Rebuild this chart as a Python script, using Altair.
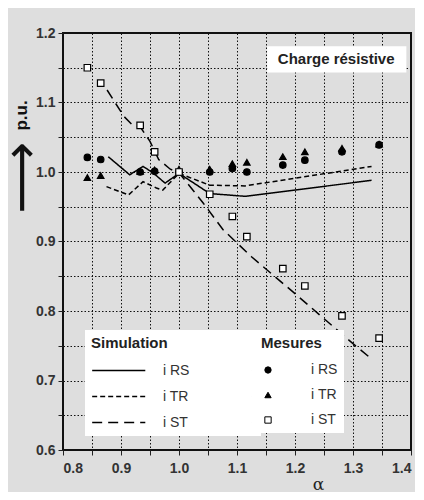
import altair as alt
import pandas as pd

# ---- data ----
sim_names = ["i RS", "i TR", "i ST"]
meas_names = ["i\u00a0RS", "i\u00a0TR", "i\u00a0ST"]

alpha_meas = [0.842, 0.865, 0.933, 0.958, 1.0, 1.053, 1.092, 1.117, 1.179, 1.217, 1.281, 1.345]
irs_meas = [1.021, 1.018, 1.000, 1.001, 1.000, 1.000, 1.005, 1.000, 1.010, 1.017, 1.029, 1.039]
itr_meas = [0.992, 0.995, 1.001, 1.003, 1.004, 1.004, 1.012, 1.014, 1.022, 1.029, 1.034, 1.040]
ist_meas = [1.150, 1.128, 1.067, 1.029, 1.000, 0.968, 0.936, 0.907, 0.861, 0.836, 0.793, 0.761]

alpha_sim_rs = [0.878, 0.915, 0.938, 0.955, 0.976, 1.0, 1.053, 1.114, 1.332]
irs_sim = [1.022, 0.996, 1.008, 0.999, 0.984, 0.998, 0.969, 0.965, 0.988]
alpha_sim_tr = [0.875, 0.913, 0.938, 0.961, 0.972, 1.0, 1.053, 1.114, 1.332]
itr_sim = [0.979, 0.967, 0.986, 0.977, 0.974, 0.998, 0.981, 0.980, 1.008]
alpha_sim_st = [0.876, 0.905, 0.918, 0.934, 0.950, 0.965, 0.985, 1.0, 1.042, 1.076, 1.125, 1.2, 1.3, 1.332]
ist_sim = [1.118, 1.080, 1.069, 1.064, 1.044, 1.018, 1.004, 0.999, 0.955, 0.917, 0.878, 0.825, 0.753, 0.731]

x_ticks = [round(0.8 + 0.05 * i, 2) for i in range(13)]
y_ticks = [round(0.6 + 0.05 * i, 2) for i in range(13)]

note_text = ["Charge résistive"]
note_x = [1.271]
note_y = [1.162]
note_box = {"x": [1.152], "x2": [1.392], "y": [1.181], "y2": [1.143]}
arrow_pos = {"x": [0.7305], "y": [0.992]}

FONT = "Liberation Sans"

# ---- tables ----
sim_rows = []
for name, xs, ys in zip(sim_names, [alpha_sim_rs, alpha_sim_tr, alpha_sim_st], [irs_sim, itr_sim, ist_sim]):
    for i, (a, v) in enumerate(zip(xs, ys)):
        sim_rows.append({"x": a, "y": v, "sim": name, "order": i})
sim_df = pd.DataFrame(sim_rows)

meas_rows = []
for name, ys in zip(meas_names, [irs_meas, itr_meas, ist_meas]):
    for a, v in zip(alpha_meas, ys):
        meas_rows.append({"x": a, "y": v, "meas": name})
meas_df = pd.DataFrame(meas_rows)

xscale = alt.Scale(domain=[0.8, 1.4], nice=False, zero=False)
yscale = alt.Scale(domain=[0.6, 1.2], nice=False, zero=False)

label_expr = "round(datum.value*100) % 10 == 0 ? format(datum.value, '.1f') : ''"
x_axis = alt.Axis(
    values=x_ticks, labelExpr=label_expr,
    title="α", titleFont="DejaVu Serif", titleFontWeight="normal", titleFontSize=17,
    titleX=255, titleY=34, titleBaseline="middle", titleColor="#222",
)
y_axis = alt.Axis(
    values=y_ticks, labelExpr=label_expr,
    title="p.u.", titleFont=FONT, titleFontWeight="bold", titleFontSize=17,
    titleAngle=270, titleX=-42, titleY=82, titleAlign="center", titleBaseline="middle",
    titleColor="#111",
)


def X(field="x"):
    return alt.X(f"{field}:Q", scale=xscale, axis=x_axis)


def Y(field="y"):
    return alt.Y(f"{field}:Q", scale=yscale, axis=y_axis)


# line symbol (visible part) plus an invisible zero-length tail that widens the legend box
sim_legend = alt.Legend(
    title="Simulation", orient="none", legendX=22, legendY=297,
    symbolType="M-1,0H7.4M24.2,0h0.001", symbolSize=160, symbolStrokeWidth=1.4, symbolStrokeColor="black",
    labelOffset=57,
    fillColor="white", padding=6, rowPadding=11,
    titleFont=FONT, titleFontSize=15, titleFontWeight="bold", titleColor="#222", titlePadding=12,
    labelFont=FONT, labelFontSize=14, labelColor="#333",
)
meas_legend = alt.Legend(
    title="Mesures", orient="none", legendX=192, legendY=297,
    symbolSize=40, symbolStrokeColor="black", symbolStrokeWidth=1,
    labelOffset=36, fillColor="white", padding=6, rowPadding=11,
    titleFont=FONT, titleFontSize=15, titleFontWeight="bold", titleColor="#222", titlePadding=12,
    labelFont=FONT, labelFontSize=14, labelColor="#333",
)

lines = alt.Chart(sim_df).mark_line(color="black", strokeWidth=1.5).encode(
    x=X(), y=Y(),
    strokeDash=alt.StrokeDash("sim:N", scale=alt.Scale(domain=sim_names, range=[[1, 0], [5, 3], [10, 6]]), legend=sim_legend),
    order="order:Q",
)

points = alt.Chart(meas_df).mark_point(filled=False, strokeWidth=1.2, size=42, opacity=1).encode(
    x=X(), y=Y(),
    shape=alt.Shape("meas:N", scale=alt.Scale(domain=meas_names, range=["circle", "triangle-up", "square"]), legend=meas_legend),
    fill=alt.Fill("meas:N", scale=alt.Scale(domain=meas_names, range=["black", "black", "white"]), legend=meas_legend),
    stroke=alt.Stroke("meas:N", scale=alt.Scale(domain=meas_names, range=["black", "black", "black"]), legend=meas_legend),
)

note_df = pd.DataFrame({"x": note_box["x"], "x2": note_box["x2"], "y": note_box["y"], "y2": note_box["y2"]})
note_rect = alt.Chart(note_df).mark_rect(fill="white").encode(
    x=X(), x2="x2:Q", y=Y(), y2="y2:Q"
)
note_lab = alt.Chart(pd.DataFrame({"t": note_text, "x": note_x, "y": note_y})).mark_text(
    font=FONT, fontSize=15, fontWeight="bold", color="#222", align="center", baseline="middle"
).encode(x=X(), y=Y(), text="t:N")

arrow = alt.Chart(pd.DataFrame({"x": arrow_pos["x"], "y": arrow_pos["y"], "t": ["⟶"]})).mark_text(
    fontSize=50, font="DejaVu Sans", angle=270, color="#111", align="center", baseline="middle", clip=False
).encode(x=X(), y=Y(), text="t:N")

chart = alt.layer(lines, note_rect, note_lab, points, arrow).properties(
    width=348, height=417,
    autosize=alt.AutoSizeParams(type="none"),
    padding={"left": 55, "top": 25, "right": 4, "bottom": 42},
    background="#dedede",
).configure_view(
    stroke="#111", strokeWidth=2
).configure_axis(
    grid=True, gridDash=[1.5, 2], gridColor="#111", gridWidth=1, gridOpacity=1,
    labelFont=FONT, labelFontSize=14, labelFontWeight="bold", labelColor="#333",
    tickColor="#222", tickSize=5, domain=False,
).configure_axisX(labelPadding=6).configure_axisY(labelPadding=3)

chart.save("out.html", embed_options={"renderer": "svg", "actions": False})
